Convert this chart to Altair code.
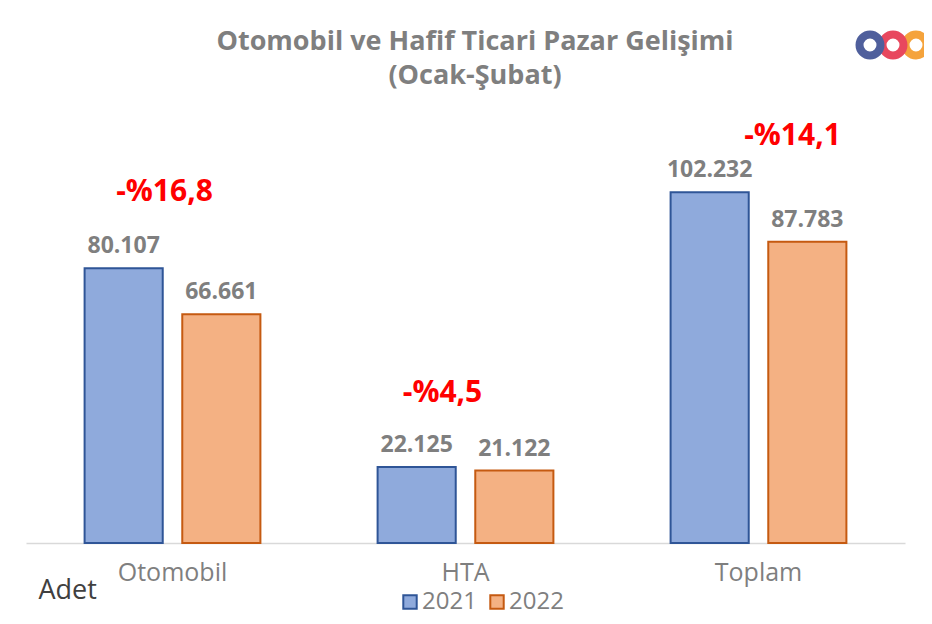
import altair as alt
import pandas as pd

categories = ["Otomobil", "HTA", "Toplam"]
years = ["2021", "2022"]
values_2021 = [80107, 22125, 102232]
values_2022 = [66661, 21122, 87783]
pct_labels = ["-%16,8", "-%4,5", "-%14,1"]
title_lines = ["Otomobil ve Hafif Ticari Pazar Gelişimi", "(Ocak-Şubat)"]

rows = []
for c, a, b in zip(categories, values_2021, values_2022):
    for y, v in (("2021", a), ("2022", b)):
        rows.append({"cat": c, "year": y, "value": v,
                     "label": f"{v:,}".replace(",", ".")})
df = pd.DataFrame(rows)

pct_df = pd.DataFrame({
    "cat": categories,
    "value": [max(a, b) for a, b in zip(values_2021, values_2022)],
    "pct": pct_labels,
})

FONT = "Open Sans"
GRAY = "#7f7f7f"

x_enc = alt.X("cat:N", sort=categories,
              scale=alt.Scale(paddingInner=0.4, paddingOuter=0.2),
              axis=alt.Axis(title="Adet", labelFontSize=25, labelColor=GRAY,
                            labelFont=FONT, labelPadding=17, labelAngle=0,
                            ticks=False, domainColor="#d9d9d9", domainWidth=1.5,
                            titleX=12, titleY=55, titleAnchor="start",
                            titleAlign="left", titleBaseline="alphabetic",
                            titleFontSize=27, titleFontWeight="normal",
                            titleColor="#404040", titleFont=FONT))
y_enc = alt.Y("value:Q", scale=alt.Scale(domain=[0, 130000]), axis=None)
xoff = alt.XOffset("year:N", sort=years, scale=alt.Scale(paddingInner=0.2))

legend = alt.Legend(title=None, orient="none", legendX=372, legendY=493,
                    direction="horizontal", symbolType="square", symbolSize=180,
                    symbolStrokeWidth=2, labelFontSize=24, labelColor=GRAY,
                    labelFont=FONT, columnPadding=8, labelOffset=0)

base = alt.Chart(df)
bars = base.mark_bar(strokeWidth=2).encode(
    x=x_enc, xOffset=xoff, y=y_enc,
    fill=alt.Fill("year:N", scale=alt.Scale(domain=years, range=["#8faadc", "#f4b183"]), legend=legend),
    stroke=alt.Stroke("year:N", scale=alt.Scale(domain=years, range=["#2f5597", "#c55a11"]), legend=legend),
)
vals = base.mark_text(dy=-15, baseline="alphabetic", fontSize=23, fontWeight="bold",
                      color=GRAY, font=FONT).encode(
    x=alt.X("cat:N", sort=categories), xOffset=xoff, y=y_enc, text="label:N")

offsets = {"Otomobil": (-8, -67), "HTA": (-23, -65), "Toplam": (34, -47)}
pct_layers = []
for c in categories:
    dx, dy = offsets[c]
    pct_layers.append(
        alt.Chart(pct_df).transform_filter(alt.datum.cat == c)
        .mark_text(dx=dx, dy=dy, baseline="alphabetic", fontSize=30, fontWeight="bold",
                   color="#ff0000", font=FONT)
        .encode(x=alt.X("cat:N", sort=categories), y=y_enc, text="pct:N"))

title_layers = []
for line, yy in zip(title_lines, (-47, -13)):
    title_layers.append(
        alt.Chart(pd.DataFrame({"t": [line]}))
        .mark_text(baseline="alphabetic", align="center", fontSize=27, fontWeight="bold",
                   color=GRAY, font=FONT)
        .encode(x=alt.value(449), y=alt.value(yy), text="t:N"))

logo_src = pd.DataFrame({"k": [0]})
logo = []
for xx, col in ((890, "#f5a33c"), (867, "#e8485e"), (844, "#4f5f9c")):
    logo.append(alt.Chart(logo_src).mark_point(shape="circle", filled=False,
                                               strokeWidth=8, size=440, opacity=1)
                .encode(x=alt.value(xx), y=alt.value(-52), color=alt.value(col)))

chart = alt.layer(bars, vals, *pct_layers, *title_layers, *logo).properties(
    width=879, height=446,
    background="white",
    autosize=alt.AutoSizeParams(type="none"),
    padding={"left": 18, "top": 89, "right": 19, "bottom": 73},
).configure_view(strokeWidth=0, stroke="transparent")

chart.save("out.html", embed_options={"renderer": "svg", "actions": False})
